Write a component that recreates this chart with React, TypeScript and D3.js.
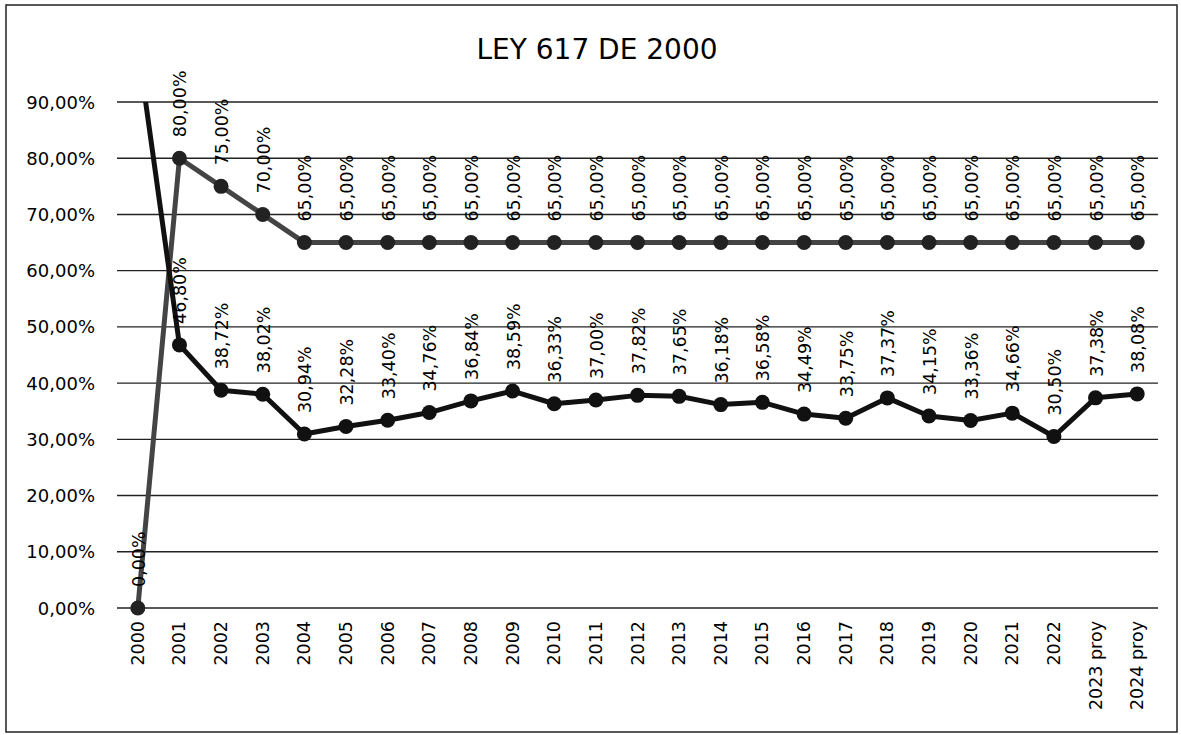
import React from "react";
import * as d3 from "d3";

const categories: string[] = [
  "2000", "2001", "2002", "2003", "2004", "2005", "2006", "2007", "2008", "2009",
  "2010", "2011", "2012", "2013", "2014", "2015", "2016", "2017", "2018", "2019",
  "2020", "2021", "2022", "2023 proy", "2024 proy",
];

// Upper series (limit)
const limitValues: number[] = [
  0.0, 0.8, 0.75, 0.7, 0.65, 0.65, 0.65, 0.65, 0.65, 0.65,
  0.65, 0.65, 0.65, 0.65, 0.65, 0.65, 0.65, 0.65, 0.65, 0.65,
  0.65, 0.65, 0.65, 0.65, 0.65,
];

// Lower series (actual)
const actualValues: number[] = [
  1.0, 0.468, 0.3872, 0.3802, 0.3094, 0.3228, 0.334, 0.3476, 0.3684, 0.3859,
  0.3633, 0.37, 0.3782, 0.3765, 0.3618, 0.3658, 0.3449, 0.3375, 0.3737, 0.3415,
  0.3336, 0.3466, 0.305, 0.3738, 0.3808,
];

const yTicks: number[] = [0, 0.1, 0.2, 0.3, 0.4, 0.5, 0.6, 0.7, 0.8, 0.9];

const title = "LEY 617 DE 2000";

const W = 1181;
const H = 735;
const FONT = "'DejaVu Sans', sans-serif";

const fmt = (v: number) => (v * 100).toFixed(2).replace(".", ",") + "%";

export default function App() {
  const left = 117;
  const right = 1158;
  const top = 102;
  const bottom = 608;

  const x = d3.scaleBand<string>().domain(categories).range([left, right]);
  const cx = (c: string) => (x(c) as number) + x.bandwidth() / 2;
  const y = d3.scaleLinear().domain([0, 0.9]).range([bottom, top]);

  const line = d3
    .line<number>()
    .x((_, i) => cx(categories[i]))
    .y((d) => y(d));

  const series = [
    { values: limitValues, color: "#444", marker: "#222" },
    { values: actualValues, color: "#111", marker: "#111" },
  ];

  return (
    <svg
      width={W}
      height={H}
      style={{ position: "absolute", left: 0, top: 0, background: "#fff" }}
      fontFamily={FONT}
    >
      <defs>
        <clipPath id="plotClip">
          <rect x={left} y={top} width={right - left} height={bottom - top + 20} />
        </clipPath>
      </defs>
      <rect x={6} y={5} width={1171} height={727} fill="none" stroke="#222" strokeWidth={1.5} />
      <text x={597} y={59} textAnchor="middle" fontSize={28} fill="#000">
        {title}
      </text>
      {yTicks.map((t) => (
        <g key={t}>
          <line x1={left} x2={right} y1={y(t)} y2={y(t)} stroke="#222" strokeWidth={1.4} />
          <text
            x={95}
            y={y(t)}
            textAnchor="end"
            dominantBaseline="central"
            fontSize={18}
            fill="#000"
          >
            {fmt(t)}
          </text>
        </g>
      ))}
      {categories.map((c) => (
        <text
          key={c}
          transform={`translate(${cx(c)},${621}) rotate(-90)`}
          textAnchor="end"
          dominantBaseline="central"
          fontSize={17.5}
          fill="#000"
        >
          {c}
        </text>
      ))}
      <g clipPath="url(#plotClip)">
        {series.map((s, si) => (
          <path
            key={si}
            d={line(s.values) || ""}
            fill="none"
            stroke={s.color}
            strokeWidth={5}
            strokeLinejoin="round"
          />
        ))}
      </g>
      {series.map((s, si) => (
        <g key={si}>
          {s.values.map((v, i) =>
            v <= 0.9 ? (
              <circle key={i} cx={cx(categories[i])} cy={y(v)} r={7.5} fill={s.marker} />
            ) : null
          )}
          {s.values.map((v, i) =>
            v <= 0.9 ? (
              <text
                key={"l" + i}
                transform={`translate(${cx(categories[i]) + 1},${y(v) - 21}) rotate(-90)`}
                textAnchor="start"
                dominantBaseline="central"
                fontSize={17.5}
                fill="#000"
              >
                {fmt(v)}
              </text>
            ) : null
          )}
        </g>
      ))}
    </svg>
  );
}
